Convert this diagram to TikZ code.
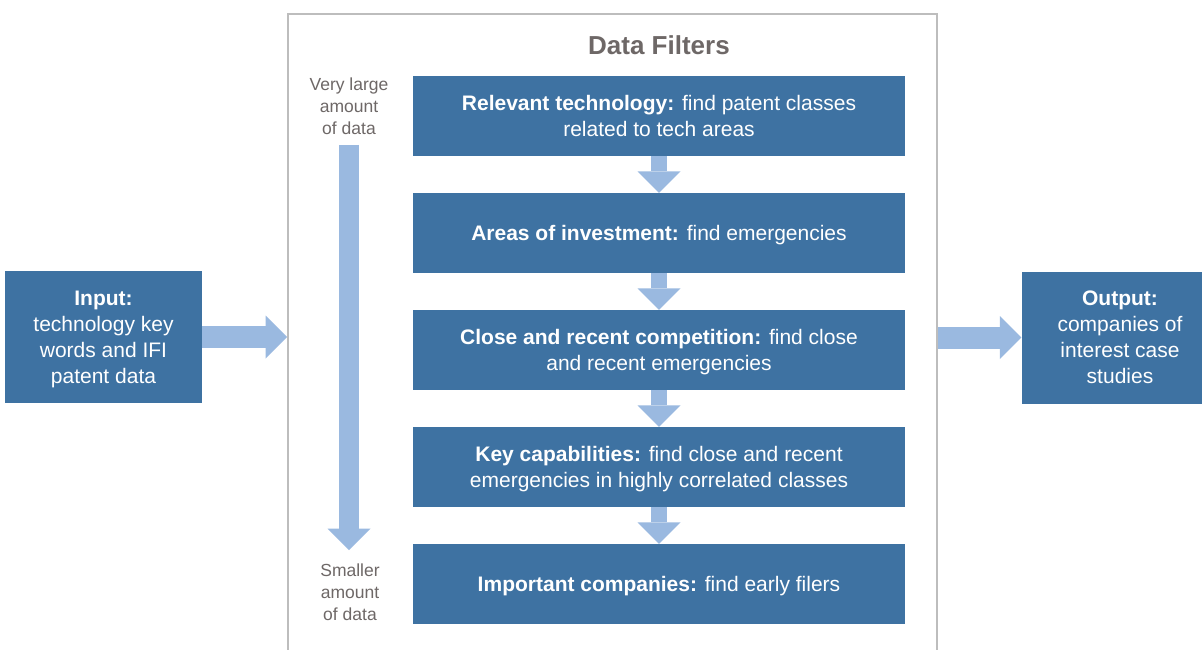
\documentclass[tikz,border=0pt]{standalone}
\usepackage{fontspec}
\setmainfont{Liberation Sans}
\usetikzlibrary{arrows.meta,calc}
\definecolor{boxblue}{HTML}{3E72A2}
\definecolor{arrowblue}{HTML}{9AB9E0}
\definecolor{framegray}{HTML}{BDBDBD}
\definecolor{textgray}{HTML}{6E6867}
\begin{document}
\begin{tikzpicture}[x=1pt,y=-1pt,
  box/.style={fill=boxblue, text=white, align=center, inner sep=0pt,
    font=\fontsize{21}{26}\selectfont, text depth=0pt},
  filt/.style={box, minimum width=492pt, minimum height=80pt},
  endbox/.style={box, minimum width=197pt, minimum height=132pt},
  sidelabel/.style={text=textgray, align=center, inner sep=0pt,
    font=\fontsize{17.5}{22}\selectfont},
  fat/.style={draw=arrowblue, line width=#1,
    -{Triangle[width=43pt,length=21.5pt,line width=0pt]}},
  frame/.style={draw=framegray, line width=2pt}]
\useasboundingbox (0,0) rectangle (1202,650);
\clip (0,0) rectangle (1202,650);
\fill[white] (0,0) rectangle (1202,650);

% frame
\node[frame, minimum width=649pt, minimum height=720pt, anchor=north west, inner sep=0pt] (fr) at (287,13) {};
\node[text=textgray, font=\fontsize{26}{30}\selectfont\bfseries, inner sep=0pt] (title) at (659,45) {Data Filters};

% filter boxes
\node[filt] (f1) at (659,116) {\textbf{Relevant technology:} find patent classes\\related to tech areas};
\node[filt] (f2) at (659,233) {\textbf{Areas of investment:} find emergencies};
\node[filt] (f3) at (659,350) {\textbf{Close and recent competition:} find close\\and recent emergencies};
\node[filt] (f4) at (659,467) {\textbf{Key capabilities:} find close and recent\\emergencies in highly correlated classes};
\node[filt] (f5) at (659,584) {\textbf{Important companies:} find early filers};

% input / output
\node[endbox] (in) at (103.5,337) {\textbf{Input:}\\technology key\\words and IFI\\patent data};
\node[endbox] (out) at (1120,337.5) {\textbf{Output:}\\companies of\\interest case\\studies};

% side labels
\node[sidelabel] (big) at (349,106) {Very large\\amount\\of data};
\node[sidelabel] (small) at (350,592) {Smaller\\amount\\of data};
\coordinate (va) at (349,145);
\coordinate (vb) at (349,550);

% arrows
\draw[fat=16pt] (f1.south) -- (f2.north);
\draw[fat=16pt] (f2.south) -- (f3.north);
\draw[fat=16pt] (f3.south) -- (f4.north);
\draw[fat=16pt] (f4.south) -- (f5.north);
\draw[fat=20pt] (va) -- (vb);
\draw[fat=22pt] (in.east) -- (in.east -| fr.west);
\draw[fat=22pt] (fr.east |- out.west) -- (out.west);
\end{tikzpicture}
\end{document}
